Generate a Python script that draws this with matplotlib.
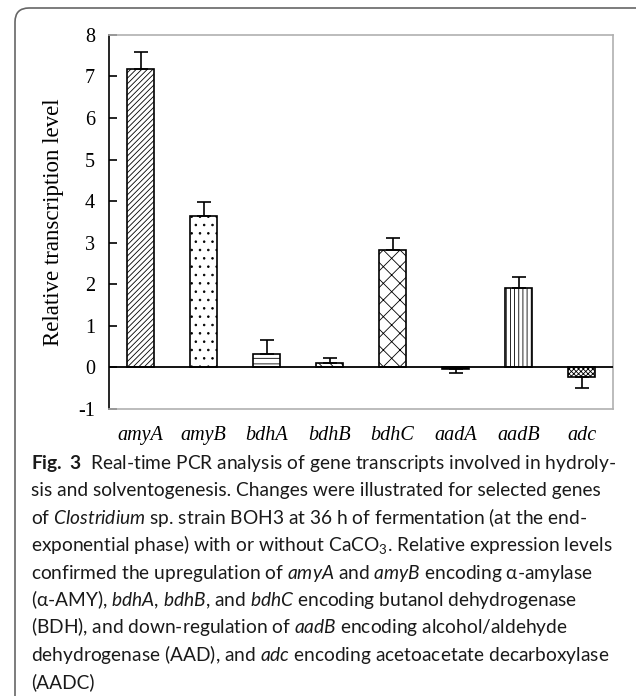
import numpy as np
import matplotlib
matplotlib.use("Agg")
from matplotlib import pyplot as plt
from matplotlib.patches import FancyBboxPatch
from matplotlib.transforms import IdentityTransform

genes = ["amyA", "amyB", "bdhA", "bdhB", "bdhC", "aadA", "aadB", "adc"]
levels = [7.18, 3.64, 0.32, 0.10, 2.83, -0.03, 1.91, -0.22]
errors = [0.40, 0.33, 0.35, 0.12, 0.28, 0.11, 0.26, 0.28]
hatches = ["//////", "..", "---", "\\\\\\", "xx", "////", "||||", "xxxxxxx"]

caption_lines = [
    r"$\mathbf{Fig.\ 3}$  Real-time PCR analysis of gene transcripts involved in hydroly-",
    "sis and solventogenesis. Changes were illustrated for selected genes",
    r"of $\mathit{Clostridium}$ sp. strain BOH3 at 36 h of fermentation (at the end-",
    r"exponential phase) with or without CaCO$_3$. Relative expression levels",
    r"confirmed the upregulation of $\mathit{amyA}$ and $\mathit{amyB}$ encoding α-amylase",
    r"(α-AMY), $\mathit{bdhA}$, $\mathit{bdhB}$, and $\mathit{bdhC}$ encoding butanol dehydrogenase",
    r"(BDH), and down-regulation of $\mathit{aadB}$ encoding alcohol/aldehyde",
    r"dehydrogenase (AAD), and $\mathit{adc}$ encoding acetoacetate decarboxylase",
    "(AADC)",
]

plt.rcParams["hatch.linewidth"] = 0.6
plt.rcParams["axes.unicode_minus"] = False
plt.rcParams["mathtext.fontset"] = "custom"
plt.rcParams["mathtext.rm"] = "Lato"
plt.rcParams["mathtext.it"] = "Lato:italic"
plt.rcParams["mathtext.bf"] = "Lato:bold"

fig = plt.figure(figsize=(6.36, 6.96), dpi=100)
ax = fig.add_axes([0.1714, 0.4124, 0.7925, 0.5374])

x = np.arange(len(genes))
bars = ax.bar(x, levels, width=0.42, color="white", edgecolor="black", linewidth=1.2, zorder=2)
for b, h in zip(bars, hatches):
    b.set_hatch(h)
bars[5].set_facecolor("black")

# error bars only on the outer side of each bar
lo = [e if v < 0 else 0 for v, e in zip(levels, errors)]
hi = [e if v >= 0 else 0 for v, e in zip(levels, errors)]
ax.errorbar(x, levels, yerr=[lo, hi], fmt="none", ecolor="black", elinewidth=1.2,
            capsize=5, capthick=1.2, zorder=3)

ax.axhline(0, color="black", lw=1.3, zorder=4)

ax.set_xlim(-0.5, 7.5)
ax.set_ylim(-1, 8)
ax.set_yticks(range(-1, 9))
ax.set_xticks(x)
ax.set_xticklabels(genes, fontstyle="italic", family="Liberation Serif", fontsize=14.5)
ax.tick_params(axis="x", length=0, pad=12)
ax.tick_params(axis="y", direction="in", length=6, width=1.2, labelsize=14.5, pad=10)
for lab in ax.get_yticklabels():
    lab.set_family("Liberation Serif")
ax.set_ylabel("Relative transcription level", family="Liberation Serif", fontsize=16.5, labelpad=10)

ax.spines["left"].set_color("black")
ax.spines["left"].set_linewidth(1.2)
for s in ["top", "right", "bottom"]:
    ax.spines[s].set_color("#b0b0b0")
    ax.spines[s].set_linewidth(1.2)

# caption
y0 = 696 - 469
step = 27.4
for i, line in enumerate(caption_lines):
    fig.text(31 / 636, (y0 - i * step) / 696, line, family=["Lato", "DejaVu Sans"],
             fontsize=13.75, va="baseline", ha="left", color="#1a1a1a")

# rounded outer frame
frame = FancyBboxPatch((15, -60), 720, 748, boxstyle="round,pad=0,rounding_size=14",
                       fill=False, edgecolor="#666666", linewidth=1.2,
                       transform=IdentityTransform())
fig.patches.append(frame)

fig.savefig("out.png", dpi=100)
